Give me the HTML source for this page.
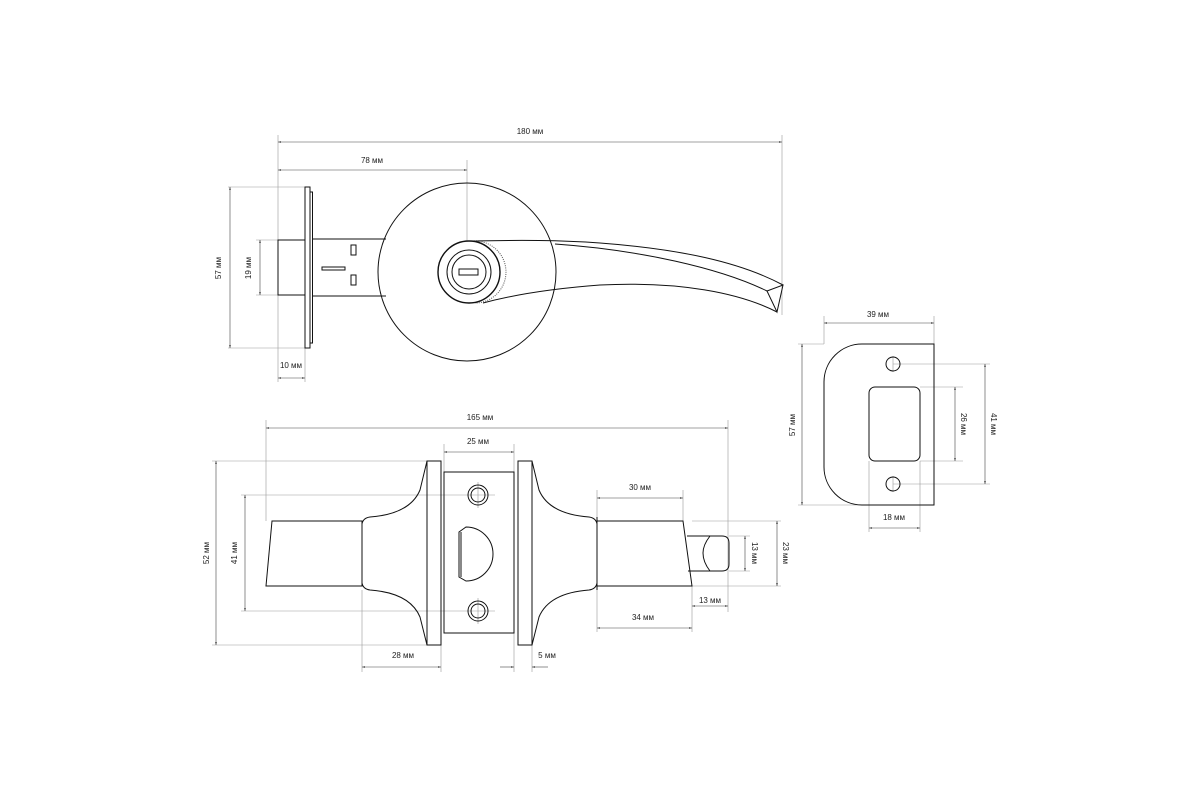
<!DOCTYPE html>
<html><head><meta charset="utf-8"><style>
html,body{margin:0;padding:0;background:#fff;}
svg{display:block;}
text{font-family:"Liberation Sans",sans-serif;font-size:8px;fill:#222;}
</style></head><body>
<svg width="1200" height="800" viewBox="0 0 1200 800" xmlns="http://www.w3.org/2000/svg">
<defs>
<marker id="a" viewBox="0 0 10 10" refX="10" refY="5" markerWidth="5" markerHeight="5" orient="auto-start-reverse"><path d="M0,2 L10,5 L0,8 z" fill="#444"/></marker>
</defs>
<rect width="1200" height="800" fill="#fff"/>
<g stroke="#999" stroke-width="0.6" fill="none">
<line x1="278" y1="135" x2="278" y2="382"/>
<line x1="782" y1="135" x2="782" y2="315"/>
<line x1="467" y1="160" x2="467" y2="272"/>
<line x1="228" y1="187" x2="305" y2="187"/>
<line x1="228" y1="348" x2="305" y2="348"/>
<line x1="256" y1="240" x2="278" y2="240"/>
<line x1="256" y1="295" x2="278" y2="295"/>
<line x1="305" y1="348" x2="305" y2="382"/>
<line x1="266" y1="420" x2="266" y2="521"/>
<line x1="728" y1="420" x2="728" y2="612"/>
<line x1="444" y1="444" x2="444" y2="472"/>
<line x1="514" y1="444" x2="514" y2="472"/>
<line x1="212" y1="461" x2="427" y2="461"/>
<line x1="212" y1="645" x2="427" y2="645"/>
<line x1="241" y1="495" x2="495" y2="495"/>
<line x1="241" y1="611" x2="495" y2="611"/>
<line x1="478" y1="482" x2="478" y2="508"/>
<line x1="478" y1="598" x2="478" y2="624"/>
<line x1="362" y1="590" x2="362" y2="672"/>
<line x1="441" y1="645" x2="441" y2="672"/>
<line x1="514" y1="633" x2="514" y2="672"/>
<line x1="532" y1="645" x2="532" y2="672"/>
<line x1="597" y1="490" x2="597" y2="632"/>
<line x1="683" y1="490" x2="683" y2="521"/>
<line x1="692" y1="586" x2="692" y2="632"/>
<line x1="692" y1="521" x2="781" y2="521"/>
<line x1="692" y1="586" x2="781" y2="586"/>
<line x1="729" y1="536" x2="750" y2="536"/>
<line x1="729" y1="571" x2="750" y2="571"/>
<line x1="824" y1="316" x2="824" y2="344"/>
<line x1="934" y1="316" x2="934" y2="344"/>
<line x1="798" y1="344" x2="824" y2="344"/>
<line x1="798" y1="505" x2="934" y2="505"/>
<line x1="893" y1="356" x2="893" y2="372"/>
<line x1="893" y1="476" x2="893" y2="492"/>
<line x1="893" y1="364" x2="990" y2="364"/>
<line x1="893" y1="484" x2="990" y2="484"/>
<line x1="920" y1="387" x2="963" y2="387"/>
<line x1="920" y1="461" x2="963" y2="461"/>
<line x1="869" y1="461" x2="869" y2="532"/>
<line x1="920" y1="461" x2="920" y2="532"/>
</g>
<g stroke="#444" stroke-width="0.6" fill="none" marker-start="url(#a)" marker-end="url(#a)">
<line x1="278" y1="142" x2="782" y2="142"/>
<line x1="278" y1="170" x2="467" y2="170"/>
<line x1="230" y1="187" x2="230" y2="348"/>
<line x1="260" y1="240" x2="260" y2="295"/>
<line x1="278" y1="378" x2="305" y2="378"/>
<line x1="266" y1="428" x2="728" y2="428"/>
<line x1="444" y1="452" x2="514" y2="452"/>
<line x1="216" y1="461" x2="216" y2="645"/>
<line x1="245" y1="495" x2="245" y2="611"/>
<line x1="362" y1="667" x2="441" y2="667"/>
<line x1="597" y1="498" x2="683" y2="498"/>
<line x1="597" y1="628" x2="692" y2="628"/>
<line x1="692" y1="606" x2="728" y2="606"/>
<line x1="745" y1="536" x2="745" y2="571"/>
<line x1="777" y1="521" x2="777" y2="586"/>
<line x1="824" y1="323" x2="934" y2="323"/>
<line x1="802" y1="344" x2="802" y2="505"/>
<line x1="955" y1="387" x2="955" y2="461"/>
<line x1="985" y1="364" x2="985" y2="484"/>
<line x1="869" y1="528" x2="920" y2="528"/>
</g>
<g stroke="#444" stroke-width="0.6" fill="none">
<line x1="500" y1="667" x2="514" y2="667" marker-end="url(#a)"/>
<line x1="548" y1="667" x2="532" y2="667" marker-end="url(#a)"/>
</g>
<text x="530" y="134" text-anchor="middle">180 мм</text>
<text x="372" y="163" text-anchor="middle">78 мм</text>
<text x="291" y="368" text-anchor="middle">10 мм</text>
<text transform="translate(221,268) rotate(-90)" text-anchor="middle">57 мм</text>
<text transform="translate(251,268) rotate(-90)" text-anchor="middle">19 мм</text>
<text x="480" y="420" text-anchor="middle">165 мм</text>
<text x="478" y="444" text-anchor="middle">25 мм</text>
<text transform="translate(209,553) rotate(-90)" text-anchor="middle">52 мм</text>
<text transform="translate(237,553) rotate(-90)" text-anchor="middle">41 мм</text>
<text x="403" y="658" text-anchor="middle">28 мм</text>
<text x="547" y="658" text-anchor="middle">5 мм</text>
<text x="640" y="490" text-anchor="middle">30 мм</text>
<text x="643" y="620" text-anchor="middle">34 мм</text>
<text x="710" y="603" text-anchor="middle">13 мм</text>
<text transform="translate(752,553) rotate(90)" text-anchor="middle">13 мм</text>
<text transform="translate(783,553) rotate(90)" text-anchor="middle">23 мм</text>
<text x="878" y="317" text-anchor="middle">39 мм</text>
<text transform="translate(795,425) rotate(-90)" text-anchor="middle">57 мм</text>
<text transform="translate(961,424) rotate(90)" text-anchor="middle">26 мм</text>
<text transform="translate(991,424) rotate(90)" text-anchor="middle">41 мм</text>
<text x="894" y="520" text-anchor="middle">18 мм</text>
<g stroke="#111" stroke-width="1" fill="none">
<rect x="278" y="240" width="27" height="55"/>
<rect x="305" y="187" width="5" height="161"/>
<rect x="310" y="192" width="2.5" height="151"/>
<path d="M312.5,239 L386,239 M312.5,296 L386,296"/>
<rect x="351" y="245" width="5" height="10"/>
<rect x="351" y="275" width="5" height="10"/>
<rect x="322" y="267" width="23" height="3"/>
<circle cx="467" cy="272" r="89"/>
<path d="M469,241 C520,240 560,240 600,243 C680,249 740,262 783,285"/>
<path d="M555,244 C640,250 720,268 767,291"/>
<path d="M483,303 C520,293 560,288 600,285 C680,281 740,293 777,312"/>
<path d="M767,291 L783,285 L777,312 Z"/>
<path d="M475,241 A31,31 0 0 1 475,303" stroke="#555" stroke-dasharray="1,1.2"/>
<circle cx="469" cy="272" r="31" fill="#fff" stroke-width="1.4"/>
<circle cx="469" cy="272" r="22"/>
<circle cx="469" cy="272" r="17"/>
<rect x="459" y="269" width="19" height="6"/>
<path d="M272,521 L362,521 L362,586 L266,586 Z"/>
<path d="M362,586 L362,524 Q363,518 370,517 Q410,514 420,490 L427,461"/>
<path d="M362,583 Q363,589 370,590 Q410,593 420,617 L427,645"/>
<rect x="427" y="461" width="14" height="184"/>
<rect x="444" y="472" width="70" height="161"/>
<rect x="518" y="461" width="14" height="184"/>
<path d="M597,521 L597,524 Q596,518 589,517 Q549,514 539,490 L532,461"/>
<path d="M597,583 Q596,589 589,590 Q549,593 539,617 L532,645"/>
<path d="M597,517 L597,590"/>
<path d="M597,521 L683,521 L692,586 L597,586"/>
<path d="M687,536 L722,536 Q729,536 729,543 L729,564 Q729,571 722,571 L688,571"/>
<path d="M710,536 Q703,545 703,553 Q703,562 710,571"/>
<circle cx="478" cy="495" r="10"/><circle cx="478" cy="495" r="7"/>
<circle cx="478" cy="611" r="10"/><circle cx="478" cy="611" r="7"/>
<path d="M459,532 L466,527 A27,27 0 1 1 466,581 L459,577 Z"/>
<path d="M461,532 L461,577"/>
<path d="M934,344 L934,505 L862,505 A38,38 0 0 1 824,467 L824,382 A38,38 0 0 1 862,344 Z"/>
<circle cx="893" cy="364" r="7"/>
<circle cx="893" cy="484" r="7"/>
<rect x="869" y="387" width="51" height="74" rx="6"/>
</g>
</svg>
</body></html>
